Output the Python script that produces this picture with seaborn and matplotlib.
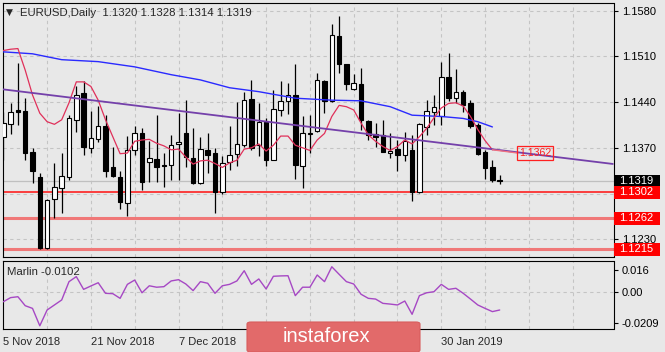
import matplotlib
matplotlib.use("Agg")
import matplotlib.pyplot as plt
import matplotlib.transforms as mtransforms
from matplotlib.patches import Rectangle, FancyBboxPatch
import numpy as np
import pandas as pd
import seaborn as sns

# ---------------- data ----------------
opens = [1.1386, 1.1406, 1.1428, 1.1427, 1.1364, 1.1325, 1.1217, 1.1291, 1.1309, 1.1326,
         1.1413, 1.1454, 1.1369, 1.1383, 1.1403, 1.1341, 1.1326, 1.1285, 1.1367, 1.1392,
         1.1349, 1.1353, 1.1343, 1.1344, 1.1376, 1.1392, 1.1355, 1.1316, 1.1367, 1.1362,
         1.1302, 1.1348, 1.1361, 1.1374, 1.1445, 1.1374, 1.1409, 1.1352, 1.1428, 1.1442,
         1.1451, 1.1342, 1.1391, 1.1396, 1.1472, 1.1442, 1.1541, 1.1498, 1.1460, 1.1467,
         1.1411, 1.1391, 1.1389, 1.1362, 1.1368, 1.1359, 1.1367, 1.1302, 1.1402, 1.1425,
         1.1418, 1.1479, 1.1447, 1.1455, 1.1439, 1.1405, 1.1363, 1.1340, 1.1320]
highs = [1.1425, 1.1438, 1.1500, 1.1447, 1.1370, 1.1332, 1.1291, 1.1347, 1.1362, 1.1420,
         1.1464, 1.1473, 1.1426, 1.1434, 1.1420, 1.1371, 1.1334, 1.1388, 1.1403, 1.1401,
         1.1380, 1.1420, 1.1362, 1.1390, 1.1424, 1.1443, 1.1400, 1.1387, 1.1393, 1.1370,
         1.1357, 1.1403, 1.1440, 1.1455, 1.1474, 1.1439, 1.1415, 1.1459, 1.1473, 1.1469,
         1.1498, 1.1419, 1.1420, 1.1485, 1.1474, 1.1560, 1.1572, 1.1499, 1.1483, 1.1492,
         1.1413, 1.1408, 1.1413, 1.1392, 1.1382, 1.1395, 1.1390, 1.1408, 1.1444, 1.1451,
         1.1502, 1.1515, 1.1490, 1.1459, 1.1443, 1.1408, 1.1367, 1.1351, 1.1328]
lows = [1.1352, 1.1391, 1.1405, 1.1352, 1.1316, 1.1215, 1.1215, 1.1262, 1.1270, 1.1321,
        1.1395, 1.1359, 1.1362, 1.1379, 1.1326, 1.1325, 1.1276, 1.1266, 1.1359, 1.1305,
        1.1318, 1.1317, 1.1310, 1.1321, 1.1320, 1.1341, 1.1315, 1.1315, 1.1331, 1.1270,
        1.1299, 1.1336, 1.1342, 1.1372, 1.1367, 1.1358, 1.1342, 1.1351, 1.1419, 1.1422,
        1.1323, 1.1309, 1.1362, 1.1395, 1.1423, 1.1440, 1.1484, 1.1459, 1.1459, 1.1397,
        1.1382, 1.1371, 1.1363, 1.1354, 1.1335, 1.1350, 1.1289, 1.1301, 1.1390, 1.1405,
        1.1405, 1.1441, 1.1438, 1.1425, 1.1401, 1.1359, 1.1323, 1.1318, 1.1314]
closes = [1.1408, 1.1425, 1.1425, 1.1362, 1.1334, 1.1217, 1.1290, 1.1310, 1.1327, 1.1415,
          1.1451, 1.1371, 1.1385, 1.1403, 1.1334, 1.1327, 1.1287, 1.1367, 1.1393, 1.1317,
          1.1354, 1.1341, 1.1342, 1.1375, 1.1379, 1.1356, 1.1316, 1.1368, 1.1359, 1.1302,
          1.1346, 1.1359, 1.1376, 1.1444, 1.1369, 1.1410, 1.1352, 1.1430, 1.1441, 1.1451,
          1.1344, 1.1393, 1.1393, 1.1474, 1.1442, 1.1543, 1.1499, 1.1468, 1.1469, 1.1413,
          1.1390, 1.1387, 1.1364, 1.1365, 1.1359, 1.1381, 1.1302, 1.1406, 1.1426, 1.1432,
          1.1479, 1.1447, 1.1456, 1.1435, 1.1403, 1.1360, 1.1339, 1.1320, 1.1319]

fast_ma = [1.1519, 1.1521, 1.1522, 1.1489, 1.1451, 1.1423, 1.1410, 1.1406, 1.1413, 1.1439,
           1.1471, 1.1471, 1.1464, 1.1443, 1.1413, 1.1387, 1.1361, 1.1362, 1.1380, 1.1382,
           1.1383, 1.1377, 1.1373, 1.1367, 1.1368, 1.1356, 1.1345, 1.1350, 1.1351, 1.1346,
           1.1340, 1.1347, 1.1351, 1.1368, 1.1370, 1.1376, 1.1365, 1.1374, 1.1388, 1.1388,
           1.1374, 1.1370, 1.1366, 1.1382, 1.1392, 1.1418, 1.1435, 1.1433, 1.1428, 1.1408,
           1.1390, 1.1380, 1.1372, 1.1366, 1.1372, 1.1382, 1.1376, 1.1387, 1.1400, 1.1416,
           1.1431, 1.1438, 1.1439, 1.1434, 1.1418, 1.1398, 1.1381, 1.1367]

slow_ma_bars = [0, 4, 8, 13, 18, 23, 27, 31, 35, 40, 45, 49, 53, 56, 60, 63, 65, 67]
slow_ma = [1.1517, 1.1514, 1.1505, 1.1502, 1.1494, 1.1482, 1.1474, 1.1462, 1.1456, 1.1446,
           1.1443, 1.1442, 1.1433, 1.1420, 1.1418, 1.1415, 1.1410, 1.1402]

marlin = [-0.0056, -0.0033, -0.0028, -0.0078, -0.0093, -0.0190, -0.0102, -0.0074, -0.0046, 0.0056,
          0.0084, 0.0013, 0.0032, 0.0050, -0.0009, -0.0011, -0.0037, 0.0041, 0.0065, -0.0006,
          0.0033, 0.0025, 0.0028, 0.0060, 0.0067, 0.0043, 0.0006, 0.0056, 0.0047, -0.0009,
          0.0033, 0.0041, 0.0060, 0.0117, 0.0041, 0.0071, 0.0015, 0.0086, 0.0088, 0.0089,
          -0.0022, 0.0025, 0.0025, 0.0093, 0.0056, 0.0139, 0.0097, 0.0056, 0.0043, -0.0014,
          -0.0037, -0.0041, -0.0065, -0.0069, -0.0074, -0.0052, -0.0126, -0.0022, -0.0006, 0.0000,
          0.0041, 0.0013, 0.0019, -0.0009, -0.0041, -0.0074, -0.0093, -0.0111, -0.0102]

trend_bars = [0.0, 83.5]
trend_prices = [1.14595, 1.13453]

levels_thin = [1.1302]
levels_thick = [1.1262, 1.1215]
level_labels = ["1.1302", "1.1262", "1.1215"]
bid_price = 1.1319
chart_label_price = 1.1362

price_ticks = [1.1230, 1.1300, 1.1370, 1.1440, 1.1510, 1.1580]
price_tick_labels = ["1.1230", "", "1.1370", "1.1440", "1.1510", "1.1580"]
marlin_tick_pos = [0.0121, 0.0, -0.0175]
marlin_tick_labels = ["0.016", "0.00", "-0.0209"]

# visible date labels (the ones under the watermark are hidden in the source)
date_bars = [0, 12, 24, 60]
date_labels = ["5 Nov 2018", "21 Nov 2018", "7 Dec 2018", "30 Jan 2019"]

title = "EURUSD,Daily  1.1320 1.1328 1.1314 1.1319"
sub_title = "Marlin -0.0102"

# ---------------- style ----------------
sns.set_style("white")
plt.rcParams["font.family"] = ["Liberation Sans", "DejaVu Sans"]
BG = "#e8e8e8"
GRID = "#c4c4c4"
W, H = 665, 352

def fx(px):
    return px / W

def fy(py):
    return 1 - py / H

fig = plt.figure(figsize=(W / 100, H / 100), dpi=100, facecolor=BG)
ax = fig.add_axes([fx(2.5), fy(257), fx(613.5) - fx(2.5), fy(3) - fy(257)])
axm = fig.add_axes([fx(2.5), fy(329), fx(613.5) - fx(2.5), fy(261) - fy(329)], sharex=ax)

n = len(opens)
bars = np.arange(n)
df = pd.DataFrame({"bar": bars, "open": opens, "high": highs, "low": lows, "close": closes})

for a in (ax, axm):
    a.set_facecolor(BG)
    for s in a.spines.values():
        s.set_color("#000000")
        s.set_linewidth(0.8)

ax.set_xlim(-0.11, 83.59)
ax.set_ylim(1.12028, 1.15918)
axm.set_ylim(-0.02079, 0.01711)

# grid
grid_bars = np.arange(6, 84, 6)
for a in (ax, axm):
    for gb in grid_bars:
        a.axvline(gb, color=GRID, lw=0.8, ls=(0, (3, 3)), zorder=0)
for p in price_ticks:
    ax.axhline(p, color=GRID, lw=0.8, ls=(0, (3, 3)), zorder=0)
axm.axhline(0.0, color=GRID, lw=0.8, ls=(0, (3, 3)), zorder=0)

# level lines
ax.axhline(bid_price, color="#c0c0c0", lw=0.9, zorder=1)
for p in levels_thin:
    ax.axhline(p, color="#ff1010", lw=1.1, zorder=2)
for p in levels_thick:
    ax.axhline(p, color="#f07878", lw=2.2, zorder=2)

# candles
up = df["close"] >= df["open"]
ax.vlines(df["bar"], df["low"], df["high"], color="#000000", lw=0.9, zorder=3)
body_h = (df["close"] - df["open"]).abs().clip(lower=0.00008)
body_b = df[["open", "close"]].min(axis=1)
ax.bar(df["bar"][up], body_h[up], bottom=body_b[up], width=0.62, color="#ffffff",
       edgecolor="#000000", linewidth=0.8, zorder=4)
ax.bar(df["bar"][~up], body_h[~up], bottom=body_b[~up], width=0.62, color="#000000",
       edgecolor="#000000", linewidth=0.8, zorder=4)

# moving averages and trendline
sns.lineplot(x=slow_ma_bars, y=slow_ma, ax=ax, color="#2a2aff", lw=1.0, zorder=5)
sns.lineplot(x=np.arange(len(fast_ma)), y=fast_ma, ax=ax, color="#e0305a", lw=0.9, zorder=5)
sns.lineplot(x=trend_bars, y=trend_prices, ax=ax, color="#7440aa", lw=1.3, zorder=5)
ax.plot([len(fast_ma) - 1, len(fast_ma) + 2.5], [fast_ma[-1], chart_label_price],
        color="#f07080", lw=1.0, zorder=5)

# on-chart price label
lab_x0, lab_x1 = 70.4, 75.3
ax.add_patch(Rectangle((lab_x0, chart_label_price - 0.00112), lab_x1 - lab_x0, 0.00224,
                       facecolor="none", edgecolor="#ff2020", lw=0.9, zorder=6))
ax.text((lab_x0 + lab_x1) / 2, chart_label_price, "1.1362", color="#ff2020", fontsize=7.6,
        ha="center", va="center", zorder=6)

# right axis ticks
for a in (ax, axm):
    a.yaxis.tick_right()
    a.tick_params(axis="y", direction="out", length=3, width=0.8, color="#000000",
                  labelsize=8, pad=3, labelcolor="#000000")
ax.set_yticks(price_ticks)
ax.set_yticklabels(price_tick_labels)
axm.set_yticks(marlin_tick_pos)
axm.set_yticklabels(marlin_tick_labels)

# price label boxes
trans = mtransforms.blended_transform_factory(ax.transAxes, ax.transData)
box_w = 46 / 611
box_h = 13 / 6530
for p, t, fc in [(bid_price, "1.1319", "#000000")] + [
        (pp, tt, "#ff0000") for pp, tt in zip(levels_thin + levels_thick, level_labels)]:
    ax.add_patch(Rectangle((1.0 + 0.6 / 611, p - box_h / 2), box_w, box_h, transform=trans,
                           facecolor=fc, edgecolor="none", clip_on=False, zorder=10))
    ax.text(1.0 + 6 / 611, p, t, transform=trans, color="#ffffff", fontsize=8,
            ha="left", va="center", clip_on=False, zorder=11)

# x axis
ax.tick_params(axis="x", bottom=False, labelbottom=False)
axm.set_xticks(date_bars)
axm.set_xticklabels(date_labels, ha="left")
axm.tick_params(axis="x", direction="out", length=4, width=0.8, labelsize=8, pad=2)

# marlin
sns.lineplot(x=np.arange(len(marlin)), y=marlin, ax=axm, color="#a648c4", lw=1.0, zorder=5)

for a in (ax, axm):
    a.set_xlabel("")
    a.set_ylabel("")

# titles
fig.text(fx(6), fy(12.5), "\u25bc", fontsize=6.5, family="DejaVu Sans", va="center", ha="left")
fig.text(fx(20), fy(12.5), title, fontsize=8.2, va="center", ha="left")
fig.text(fx(7), fy(272), sub_title, fontsize=8.2, va="center", ha="left")

# watermark
fig.patches.append(FancyBboxPatch((fx(247), fy(352)), fx(420) - fx(247), fy(322) - fy(352),
                                  boxstyle="round,pad=0,rounding_size=0.006",
                                  transform=fig.transFigure, facecolor="#e26a6a",
                                  edgecolor="#d85c5c", lw=0.8, zorder=20))
fig.text(fx(283), fy(336), "instaforex", color="#ffffff", fontsize=14.5, va="center",
         ha="left", zorder=21)

fig.savefig("out.png", dpi=100, facecolor=BG)
